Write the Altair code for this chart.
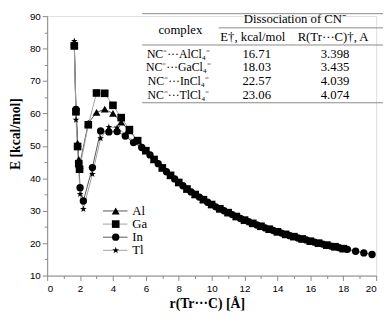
import altair as alt
import pandas as pd

# ---------------- data ----------------
series = ["Al", "Ga", "In", "Tl"]

al_r = [1.65, 1.75, 1.85, 1.92, 1.97, 2.5, 3.0, 3.5, 4.0, 4.5, 5.0, 5.5, 6.0,
        6.5, 7.0, 7.5, 8.0, 8.5, 9.0, 9.5, 10.0, 10.5, 11.0, 11.5, 12.0, 12.5,
        13.0, 13.5, 14.0, 14.5, 15.0, 15.5, 16.0, 16.5, 17.0, 17.5, 18.0]
al_e = [81.3, 61.0, 50.8, 45.8, 44.0, 57.0, 60.3, 61.3, 60.0, 57.3, 54.6, 51.6, 48.6,
        45.8, 43.2, 40.9, 38.7, 36.7, 35.0, 33.4, 31.9, 30.6, 29.4, 28.2, 27.1, 26.1,
        25.2, 24.3, 23.5, 22.7, 22.0, 21.3, 20.6, 20.0, 19.4, 18.9, 18.3]

ga_r = [1.65, 1.75, 1.85, 1.92, 1.97, 2.5, 3.0, 3.5, 4.0, 4.5, 5.0, 5.5, 6.0,
        6.5, 7.0, 7.5, 8.0, 8.5, 9.0, 9.5, 10.0, 10.5, 11.0, 11.5, 12.0, 12.5,
        13.0, 13.5, 14.0, 14.5, 15.0, 15.5, 16.0, 16.5, 17.0, 17.5, 18.0]
ga_e = [80.8, 60.5, 49.8, 44.5, 42.8, 56.5, 66.3, 66.2, 62.5, 58.7, 55.0, 51.6, 48.5,
        45.8, 43.2, 40.9, 38.7, 36.7, 35.0, 33.4, 31.9, 30.6, 29.4, 28.2, 27.1, 26.1,
        25.2, 24.3, 23.5, 22.7, 22.0, 21.3, 20.6, 20.0, 19.4, 18.9, 18.3]

in_r = [1.65, 1.75, 2.0, 2.2, 2.75, 3.25, 3.75, 4.25, 4.75, 5.25, 5.75,
        6.25, 6.75, 7.25, 7.75, 8.25, 8.75, 9.25, 9.75, 10.25, 10.75, 11.25, 11.75,
        12.25, 12.75, 13.25, 13.75, 14.25, 14.75, 15.25, 15.75, 16.25, 16.75, 17.25,
        17.75, 18.25, 18.75, 19.25, 19.75]
in_e = [81.0, 61.2, 37.1, 33.0, 43.3, 54.6, 54.3, 54.4, 53.0, 51.0, 49.5,
        47.2, 44.5, 42.0, 39.8, 37.7, 35.8, 34.2, 32.6, 31.2, 30.0, 28.8, 27.6,
        26.6, 25.6, 24.7, 23.9, 23.1, 22.3, 21.6, 21.0, 20.3, 19.7, 19.1,
        18.6, 18.1, 17.5, 17.0, 16.5]

tl_r = [1.65, 1.75, 2.0, 2.2, 2.75, 3.25, 3.75, 4.25, 4.75, 5.25, 5.75,
        6.25, 6.75, 7.25, 7.75, 8.25, 8.75, 9.25, 9.75, 10.25, 10.75, 11.25, 11.75,
        12.25, 12.75, 13.25, 13.75, 14.25, 14.75, 15.25, 15.75, 16.25, 16.75, 17.25,
        17.75, 18.25]
tl_e = [82.3, 58.0, 35.1, 30.5, 41.3, 52.3, 55.8, 55.6, 53.6, 51.3, 49.6,
        47.2, 44.5, 42.0, 39.8, 37.7, 35.8, 34.2, 32.6, 31.2, 30.0, 28.8, 27.6,
        26.6, 25.6, 24.7, 23.9, 23.1, 22.3, 21.6, 21.0, 20.3, 19.7, 19.1,
        18.6, 18.1]

# table contents
tbl_complex = ["NC\u207b\u00b7\u00b7\u00b7AlCl\u2084\u207b", "NC\u207b\u00b7\u00b7\u00b7GaCl\u2084\u207b",
               "NC\u207b\u00b7\u00b7\u00b7InCl\u2084\u207b", "NC\u207b\u00b7\u00b7\u00b7TlCl\u2084\u207b"]
tbl_e = ["16.71", "18.03", "22.57", "23.06"]
tbl_r = ["3.398", "3.435", "4.039", "4.074"]
tbl_head_complex = "complex"
tbl_head_group = "Dissociation of CN\u207b"
tbl_head_e = "E\u2020, kcal/mol"
tbl_head_r = "R(Tr\u00b7\u00b7\u00b7C)\u2020, A"

x_ticks = list(range(0, 21))
y_ticks = list(range(10, 91, 5))

# ---------------- build ----------------
rows = []
for name, rs, es in [("Al", al_r, al_e), ("Ga", ga_r, ga_e), ("In", in_r, in_e), ("Tl", tl_r, tl_e)]:
    for r, e in zip(rs, es):
        rows.append({"series": name, "r": r, "E": e})
df = pd.DataFrame(rows)

STAR = ("M0,-1L0.235,-0.324L0.951,-0.309L0.380,0.124L0.588,0.809L0,0.4"
        "L-0.588,0.809L-0.380,0.124L-0.951,-0.309L-0.235,-0.324Z")
shape_scale = alt.Scale(domain=series, range=["triangle-up", "square", "circle", STAR])
size_scale = alt.Scale(domain=series, range=[65, 52, 60, 95])
line_colors = ["#555555", "#a0a0a0", "#555555", "#a0a0a0"]
color_scale = alt.Scale(domain=series, range=line_colors)

W, H = 336, 265
xscale = alt.Scale(domain=[0, 20], nice=False, zero=False)
yscale = alt.Scale(domain=[10, 90], nice=False, zero=False)

x_axis = alt.Axis(
    values=x_ticks,
    labelOpacity={"condition": {"test": "datum.value % 2 === 0", "value": 1}, "value": 0},
    tickSize={"condition": {"test": "datum.value % 2 === 0", "value": 5}, "value": 3},
    labelOverlap=False, labelPadding=3, title="r(Tr\u00b7\u00b7\u00b7C) [\u00c5]",
    titleFont="Liberation Serif", titleFontWeight="bold", titleFontSize=14,
    titleX=163, titleY=33, titleBaseline="alphabetic", titleAlign="center",
    grid=False)
y_axis = alt.Axis(
    values=y_ticks,
    labelOpacity={"condition": {"test": "datum.value % 10 === 0", "value": 1}, "value": 0},
    tickSize={"condition": {"test": "datum.value % 10 === 0", "value": 5}, "value": 3},
    labelOverlap=False, labelPadding=2, title="E [kcal/mol]",
    titleFont="Liberation Serif", titleFontWeight="bold", titleFontSize=14,
    titleX=-25, titleY=120, titleAlign="center", grid=False)

base = alt.Chart(df)
lines = base.mark_line(strokeWidth=1).encode(
    x=alt.X("r:Q", scale=xscale, axis=x_axis),
    y=alt.Y("E:Q", scale=yscale, axis=y_axis),
    color=alt.Color("series:N", scale=color_scale, legend=None),
    detail="series:N",
)
points = base.mark_point(filled=True, color="black", opacity=1).encode(
    x=alt.X("r:Q", scale=xscale, axis=x_axis),
    y=alt.Y("E:Q", scale=yscale, axis=y_axis),
    shape=alt.Shape("series:N", scale=shape_scale, legend=None),
    size=alt.Size("series:N", scale=size_scale, legend=None),
)

# manual legend
leg = pd.DataFrame({"label": series, "i": list(range(len(series)))})
leg_base = alt.Chart(leg).transform_calculate(ly="199 + datum.i * 13.4")
leg_lines = leg_base.mark_rule(strokeWidth=1).encode(
    x=alt.value(57), x2=alt.value(82),
    y=alt.Y("ly:Q", scale=None),
    color=alt.Color("label:N", scale=color_scale, legend=None),
)
leg_pts = leg_base.mark_point(filled=True, color="black", opacity=1).encode(
    x=alt.value(70), y=alt.Y("ly:Q", scale=None),
    shape=alt.Shape("label:N", scale=shape_scale, legend=None),
    size=alt.Size("label:N", scale=size_scale, legend=None),
)
leg_txt = leg_base.mark_text(align="left", baseline="middle", font="Liberation Serif",
                             fontSize=13, color="black").encode(
    x=alt.value(87), y=alt.Y("ly:Q", scale=None), text="label:N")

# table
OX, OY = 48, 13  # plot origin on page
trows = []
trows.append({"t": tbl_head_complex, "px": 184 - OX, "py": 27 - OY, "fs": 13})
trows.append({"t": tbl_head_group, "px": 301 - OX, "py": 16.5 - OY, "fs": 13})
trows.append({"t": tbl_head_e, "px": 258 - OX, "py": 34 - OY, "fs": 13})
trows.append({"t": tbl_head_r, "px": 340 - OX, "py": 34 - OY, "fs": 13})
for i in range(len(tbl_complex)):
    yy = 51.5 + i * 14 - OY
    trows.append({"t": tbl_complex[i], "px": 182 - OX, "py": yy, "fs": 12})
    trows.append({"t": tbl_e[i], "px": 262 - OX, "py": yy, "fs": 13})
    trows.append({"t": tbl_r[i], "px": 342 - OX, "py": yy, "fs": 13})
tdf = pd.DataFrame(trows)
tbl_text = alt.Chart(tdf).mark_text(align="center", baseline="middle", font="Liberation Serif",
                                    color="black").encode(
    x=alt.X("px:Q", scale=None), y=alt.Y("py:Q", scale=None), text="t:N",
    size=alt.Size("fs:Q", scale=None, legend=None))

rules_df = pd.DataFrame({
    "x1": [145 - OX, 223 - OX, 145 - OX, 145 - OX],
    "x2": [391 - OX, 391 - OX, 391 - OX, 391 - OX],
    "yy": [10.5 - OY, 25 - OY, 42.5 - OY, 101.5 - OY],
})
tbl_rules = alt.Chart(rules_df).mark_rule(color="#888888", strokeWidth=1).encode(
    x=alt.X("x1:Q", scale=None), x2="x2:Q", y=alt.Y("yy:Q", scale=None))

chart = alt.layer(lines, points, leg_lines, leg_pts, leg_txt, tbl_rules, tbl_text).properties(
    width=W, height=H,
    autosize=alt.AutoSizeParams(type="none"),
    padding={"left": 40, "top": 5, "right": 8, "bottom": 38},
).configure_view(stroke=None).configure_axis(
    domainColor="black", domainWidth=1, tickColor="black", tickWidth=1,
    labelFont="Liberation Sans", labelFontSize=12, labelColor="black", labelOverlap=False,
    titleFont="Liberation Serif", titleFontWeight="bold", titleFontSize=14, titleColor="black",
).configure(background="white")

chart.save("out.html", embed_options={"renderer": "svg", "actions": False})
